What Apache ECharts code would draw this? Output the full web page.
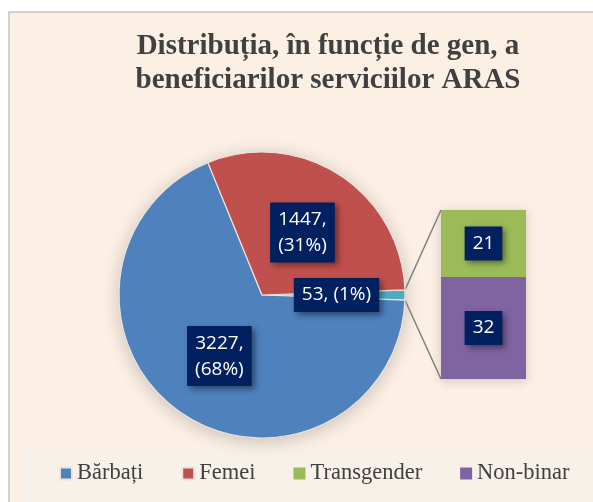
<!DOCTYPE html>
<html>
<head>
<meta charset="utf-8">
<script src="https://cdn.jsdelivr.net/npm/echarts@6/dist/echarts.min.js"></script>
<style>
  html, body { margin: 0; background: #fff; }
  #main { width: 593px; height: 502px; }
</style>
</head>
<body>
<div id="main"></div>
<script>
// data
const pieNames = ['Altele', 'Bărbați', 'Femei'];
const pieValues = [53, 3227, 1447];
const barNames = ['Non-binar', 'Transgender'];   // bottom to top
const barValues = [32, 21];
const legendNames = ['Bărbați', 'Femei', 'Transgender', 'Non-binar'];
const titleText = 'Distribuția, în funcție de gen, a\nbeneficiarilor serviciilor ARAS';

const colors = {
  'Bărbați': '#4F81BD',
  'Femei': '#C0504D',
  'Altele': '#4BACC6',
  'Transgender': '#9BBB59',
  'Non-binar': '#8064A2'
};

const total = pieValues.reduce((a, b) => a + b, 0);
const otherHalf = pieValues[0] / total * 180;   // half angle of the "other" slice

// layout
const cx = 262, cy = 295, R = 143;
const barLeft = 441, barTop = 210, barW = 85, barH = 169;

const labelBox = {
  color: '#fff',
  fontFamily: 'Open Sans',
  fontSize: 19,
  lineHeight: 26,
  backgroundColor: '#002060',
  padding: [4, 8],
  shadowColor: 'rgba(0,0,0,0.45)',
  shadowBlur: 6,
  shadowOffsetX: 3,
  shadowOffsetY: 3
};

const chart = echarts.init(document.getElementById('main'), null, { renderer: 'canvas' });

const option = {
  animation: false,
  backgroundColor: '#fff',
  title: {
    text: titleText,
    left: 323,
    top: 25,
    textAlign: 'center',
    textStyle: {
      fontFamily: 'Liberation Serif',
      fontWeight: 'bold',
      fontSize: 29,
      lineHeight: 34,
      color: '#404040'
    }
  },
  legend: {
    data: legendNames,
    left: 54,
    top: 457,
    icon: 'rect',
    itemWidth: 12,
    itemHeight: 12,
    itemGap: 38,
    textStyle: {
      fontFamily: 'Liberation Serif',
      fontSize: 22.5,
      color: '#404040'
    }
  },
  grid: { left: barLeft, top: barTop, width: barW, height: barH },
  xAxis: { type: 'category', data: ['Altele'], show: false },
  yAxis: { type: 'value', min: 0, max: barValues[0] + barValues[1], show: false, splitLine: { show: false } },
  series: [
    {
      type: 'pie',
      center: [cx, cy],
      radius: R,
      startAngle: otherHalf,
      clockwise: true,
      label: Object.assign({
        position: 'inside',
        formatter: function (p) {
          const pct = Math.round(p.value / total * 100);
          return p.value + (p.name === 'Altele' ? ', ' : ',\n') + '(' + pct + '%)';
        }
      }, labelBox),
      labelLine: { show: false },
      itemStyle: { borderColor: '#EDE4DA', borderWidth: 1.2 },
      data: pieNames.map((n, i) => ({ name: n, value: pieValues[i], itemStyle: { color: colors[n] } })),
      z: 3
    },
    ...barNames.map((n, i) => ({
      type: 'bar',
      name: n,
      stack: 'other',
      barWidth: '100%',
      data: [barValues[i]],
      itemStyle: { color: colors[n] },
      label: Object.assign({ show: true, position: 'inside' }, labelBox),
      z: 3
    }))
  ]
};

chart.setOption(option);

// connector lines from the "other" slice to the stacked bar
const a = otherHalf * Math.PI / 180;
const px = cx + R * Math.cos(a);
const pyTop = cy - R * Math.sin(a);
const pyBot = cy + R * Math.sin(a);
const yTop = chart.convertToPixel({ yAxisIndex: 0 }, barValues[0] + barValues[1]);
const yBot = chart.convertToPixel({ yAxisIndex: 0 }, 0);

chart.setOption({
  graphic: [
    {
      type: 'rect', silent: true, z: -20,
      shape: { x: 9, y: 12, width: 600, height: 500 },
      style: { fill: '#FCF0E5', stroke: '#C4C4C4', lineWidth: 1.5 }
    },
    {
      type: 'rect', silent: true, z: -19,
      shape: { x: 23, y: 446, width: 580, height: 60 },
      style: { fill: '#F7F1EA' }
    },
    {
      type: 'circle', silent: true, z: -5,
      shape: { cx: cx, cy: cy, r: R },
      style: { fill: '#F4E8DC', shadowBlur: 18, shadowColor: 'rgba(0,0,0,0.22)', shadowOffsetY: 3 }
    },
    {
      type: 'rect', silent: true, z: -5,
      shape: { x: barLeft, y: yTop, width: barW, height: yBot - yTop },
      style: { fill: '#F4E8DC', shadowBlur: 10, shadowColor: 'rgba(0,0,0,0.18)', shadowOffsetY: 2 }
    },
    {
      type: 'line', silent: true, z: 1,
      shape: { x1: px, y1: pyTop, x2: barLeft, y2: yTop },
      style: { stroke: '#808080', lineWidth: 1.5 }
    },
    {
      type: 'line', silent: true, z: 1,
      shape: { x1: px, y1: pyBot, x2: barLeft, y2: yBot },
      style: { stroke: '#808080', lineWidth: 1.5 }
    }
  ]
});
</script>
</body>
</html>
